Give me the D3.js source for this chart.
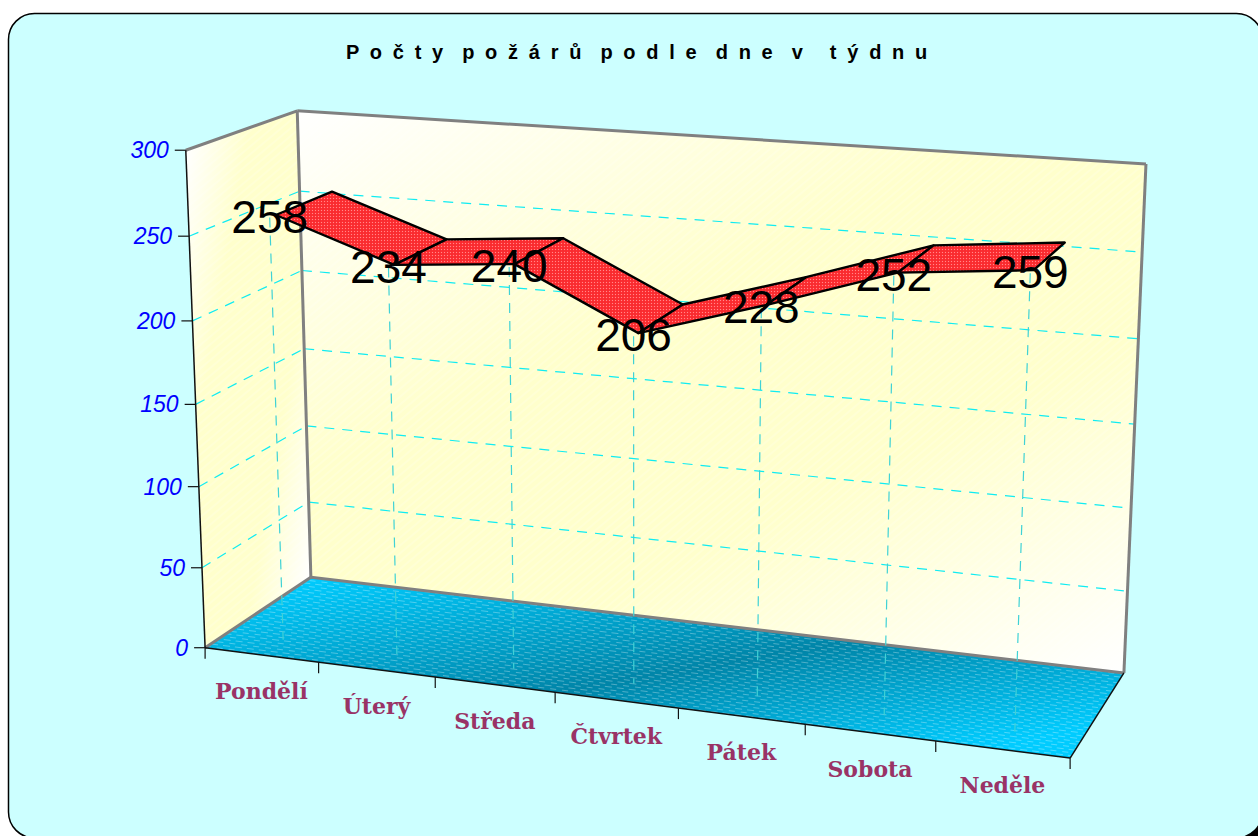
<!DOCTYPE html>
<html>
<head>
<meta charset="utf-8">
<script src="https://cdnjs.cloudflare.com/ajax/libs/d3/7.8.5/d3.min.js"></script>
<style>
  html, body { margin: 0; padding: 0; background: #fff; overflow: hidden; }
  svg { display: block; }
</style>
</head>
<body>
<div id="chart"></div>
<script>
const chartTitle = "P o č t y  p o ž á r ů  p o d l e  d n e  v   t ý d n u";
const days = ["Pondělí", "Úterý", "Středa", "Čtvrtek", "Pátek", "Sobota", "Neděle"];
const fires = [258, 234, 240, 206, 228, 252, 259];
const valueTicks = [0, 50, 100, 150, 200, 250, 300];

const width = 1258, height = 836;

// known corners of the 3d box on screen: [u, v, w, screenX, screenY]
const boxCorners = [
  [0, 0, 0, 205, 648],
  [0, 1, 0, 186, 150],
  [0, 0, 1, 311, 577],
  [0, 1, 1, 297, 111],
  [1, 1, 1, 1146, 164],
  [1, 0, 1, 1124, 673],
  [1, 0, 0, 1070, 758]
];

// least squares fit of the camera matrix, solved with the normal equations
function fitCamera(corners) {
  const rows = [], rhs = [];
  corners.forEach(([u, v, w, sx, sy]) => {
    rows.push([1, u, v, w, 0, 0, 0, 0, -sx * u, -sx * v, -sx * w]); rhs.push(sx);
    rows.push([0, 0, 0, 0, 1, u, v, w, -sy * u, -sy * v, -sy * w]); rhs.push(sy);
  });
  const n = 11;
  const m = d3.range(n).map(i => d3.range(n + 1).map(j =>
    j < n ? d3.sum(rows, (r) => r[i] * r[j]) : d3.sum(rows, (r, k) => r[i] * rhs[k])));
  for (let c = 0; c < n; c++) {
    let p = c;
    for (let r = c + 1; r < n; r++) if (Math.abs(m[r][c]) > Math.abs(m[p][c])) p = r;
    [m[c], m[p]] = [m[p], m[c]];
    for (let r = 0; r < n; r++) {
      if (r === c) continue;
      const f = m[r][c] / m[c][c];
      for (let j = c; j <= n; j++) m[r][j] -= f * m[c][j];
    }
  }
  return m.map((r, i) => r[n] / r[i]);
}
const cam = fitCamera(boxCorners);

function project(u, v, w) {
  const d = 1 + cam[8] * u + cam[9] * v + cam[10] * w;
  return [
    (cam[0] + cam[1] * u + cam[2] * v + cam[3] * w) / d,
    (cam[4] + cam[5] * u + cam[6] * v + cam[7] * w) / d
  ];
}

const xScale = d3.scaleBand().domain(days).range([0, 1]);
const yScale = d3.scaleLinear().domain([0, 300]).range([0, 1]);
const ribbonFront = 0.255, ribbonBack = 0.78, dropDepth = 0.2;
const center = d => xScale(d) + xScale.bandwidth() / 2;
const xEdges = days.map(d => xScale(d)).concat(1);

const poly = d3.line();

const svg = d3.select("#chart").append("svg")
  .attr("width", width)
  .attr("height", height);

const defs = svg.append("defs");

function gradient(id, x1, y1, x2, y2, stops) {
  const g = defs.append("linearGradient").attr("id", id)
    .attr("gradientUnits", "userSpaceOnUse")
    .attr("x1", x1).attr("y1", y1).attr("x2", x2).attr("y2", y2);
  stops.forEach(s => g.append("stop").attr("offset", s[0]).attr("stop-color", s[1]));
}
gradient("backWall", 297, 111, 683, 891, [[0, "#ffffff"], [0.38, "#ffffcc"], [0.66, "#ffffcc"], [1, "#ffffff"]]);
gradient("sideWall", 186, 150, 378, 183, [[0, "#ffffff"], [0.3, "#ffffcc"], [0.72, "#ffffcc"], [1, "#ffffff"]]);
gradient("floorFill", 311, 577, 359, 855, [[0, "#00ccff"], [0.55, "#0085a8"], [1, "#00ccff"]]);

// faint diagonal hatching on the walls
const hatch = defs.append("pattern").attr("id", "hatch")
  .attr("width", 6).attr("height", 6)
  .attr("patternUnits", "userSpaceOnUse")
  .attr("patternTransform", "rotate(-40)");
hatch.append("line").attr("x1", 0).attr("x2", 6).attr("y1", 3).attr("y2", 3)
  .attr("stroke", "#fff").attr("stroke-opacity", 0.35).attr("stroke-width", 1);

// pale dashes on the floor
const floorDash = defs.append("pattern").attr("id", "floorDash")
  .attr("width", 12).attr("height", 6)
  .attr("patternUnits", "userSpaceOnUse")
  .attr("patternTransform", "rotate(7)");
floorDash.append("line").attr("x1", 0).attr("x2", 7).attr("y1", 1.5).attr("y2", 1.5)
  .attr("stroke", "#fff").attr("stroke-opacity", 0.3).attr("stroke-width", 1);
floorDash.append("line").attr("x1", 6).attr("x2", 12).attr("y1", 4.5).attr("y2", 4.5)
  .attr("stroke", "#fff").attr("stroke-opacity", 0.3).attr("stroke-width", 1);

// dotted red ribbon fill
const dots = defs.append("pattern").attr("id", "redDots")
  .attr("width", 3).attr("height", 3)
  .attr("patternUnits", "userSpaceOnUse");
dots.append("rect").attr("width", 3).attr("height", 3).attr("fill", "#ff2f33");
dots.append("rect").attr("width", 1).attr("height", 1).attr("fill", "#ff8a8a");
dots.append("rect").attr("x", 1.5).attr("y", 1.5).attr("width", 1).attr("height", 1).attr("fill", "#e02024");

// chart area with its shadow, only the bottom right corner of it shows
svg.append("rect").attr("x", 1000).attr("y", 600).attr("width", 270).attr("height", 250)
  .attr("rx", 20).attr("fill", "#000");
svg.append("rect").attr("x", 8.5).attr("y", 13.5).attr("width", 1254).attr("height", 824.5)
  .attr("rx", 26).attr("fill", "#ccffff").attr("stroke", "#000").attr("stroke-width", 1.5);

svg.append("text")
  .attr("x", 638).attr("y", 59)
  .attr("text-anchor", "middle")
  .attr("xml:space", "preserve")
  .style("white-space", "pre")
  .attr("font-family", "Liberation Sans")
  .attr("font-weight", "bold")
  .attr("font-size", 20)
  .attr("letter-spacing", 2.6)
  .text(chartTitle);

// walls and floor
function face(pts, fill) {
  const g = poly(pts.map(p => project(p[0], p[1], p[2]))) + "Z";
  svg.append("path").attr("d", g).attr("fill", fill);
  return g;
}
const backPts = [[0, 0, 1], [0, 1, 1], [1, 1, 1], [1, 0, 1]];
const sidePts = [[0, 0, 0], [0, 1, 0], [0, 1, 1], [0, 0, 1]];
const floorPts = [[0, 0, 0], [0, 0, 1], [1, 0, 1], [1, 0, 0]];
face(backPts, "url(#backWall)");
face(backPts, "url(#hatch)");
face(sidePts, "url(#sideWall)");
face(sidePts, "url(#hatch)");
face(floorPts, "url(#floorFill)");
face(floorPts, "url(#floorDash)");

// value gridlines on both walls
const grid = svg.append("g").attr("fill", "none")
  .attr("stroke", "#10ecf2").attr("stroke-width", 1.2).attr("stroke-dasharray", "10,8");
valueTicks.filter(t => t > 0 && t < 300).forEach(t => {
  const v = yScale(t);
  grid.append("path").attr("d", poly([project(0, v, 0), project(0, v, 1)]));
  grid.append("path").attr("d", poly([project(0, v, 1), project(1, v, 1)]));
});

// box edges
function edge(a, b, color, w) {
  svg.append("path").attr("d", poly([project(...a), project(...b)]))
    .attr("stroke", color).attr("stroke-width", w).attr("fill", "none");
}
edge([0, 1, 0], [0, 1, 1], "#808080", 3);
edge([0, 1, 1], [1, 1, 1], "#808080", 3);
edge([1, 1, 1], [1, 0, 1], "#808080", 3);
edge([0, 1, 1], [0, 0, 1], "#808080", 3);
edge([0, 0, 0], [0, 0, 1], "#808080", 3);
edge([0, 0, 1], [1, 0, 1], "#808080", 3);
edge([0, 0, 0], [0, 1, 0], "#111", 1.5);
edge([0, 0, 0], [1, 0, 0], "#111", 1.5);
edge([1, 0, 0], [1, 0, 1], "#111", 1.5);

// drop lines from the ribbon to the floor
svg.append("g").selectAll("path").data(days).join("path")
  .attr("d", (d, i) => poly([project(center(d), yScale(fires[i]), dropDepth), project(center(d), 0, dropDepth)]))
  .attr("fill", "none")
  .attr("stroke", "#3fd2d6").attr("stroke-width", 1.2).attr("stroke-dasharray", "10,8");

// ribbon, one piece per pair of days
svg.append("g").selectAll("path").data(days.slice(1)).join("path")
  .attr("d", (d, i) => {
    const a = center(days[i]), b = center(d);
    const va = yScale(fires[i]), vb = yScale(fires[i + 1]);
    return poly([
      project(a, va, ribbonFront), project(b, vb, ribbonFront),
      project(b, vb, ribbonBack), project(a, va, ribbonBack)
    ]) + "Z";
  })
  .attr("fill", "url(#redDots)")
  .attr("stroke", "#000").attr("stroke-width", 2.4).attr("stroke-linejoin", "round");

// value axis ticks and labels
const yTicks = svg.append("g").selectAll("g").data(valueTicks).join("g")
  .attr("transform", d => {
    const p = project(0, yScale(d), 0);
    return `translate(${p[0]},${p[1]})`;
  });
yTicks.append("line").attr("x1", -11).attr("x2", 0).attr("stroke", "#111").attr("stroke-width", 1.2);
yTicks.append("text")
  .attr("x", -17).attr("dy", "0.35em")
  .attr("text-anchor", "end")
  .attr("font-family", "Liberation Sans")
  .attr("font-style", "italic")
  .attr("font-size", 23)
  .attr("fill", "#0000ff")
  .text(d => d);

// category ticks and labels
svg.append("g").selectAll("line").data(xEdges).join("line")
  .attr("x1", d => project(d, 0, 0)[0]).attr("x2", d => project(d, 0, 0)[0])
  .attr("y1", d => project(d, 0, 0)[1]).attr("y2", d => project(d, 0, 0)[1] + 11)
  .attr("stroke", "#111").attr("stroke-width", 1.2);

svg.append("g").selectAll("text").data(days).join("text")
  .attr("x", d => project(center(d), 0, 0)[0])
  .attr("y", d => project(center(d), 0, 0)[1] + 44)
  .attr("text-anchor", "middle")
  .attr("font-family", "DejaVu Serif")
  .attr("font-weight", "bold")
  .attr("font-size", 22)
  .attr("fill", "#993366")
  .text(d => d);

// data labels sit on top of the drop lines
svg.append("g").selectAll("text").data(days).join("text")
  .attr("x", (d, i) => project(center(d), yScale(fires[i]), dropDepth)[0])
  .attr("y", (d, i) => project(center(d), yScale(fires[i]), dropDepth)[1] + 15)
  .attr("text-anchor", "middle")
  .attr("font-family", "Liberation Sans")
  .attr("font-size", 46)
  .attr("fill", "#000")
  .text((d, i) => fires[i]);
</script>
</body>
</html>
